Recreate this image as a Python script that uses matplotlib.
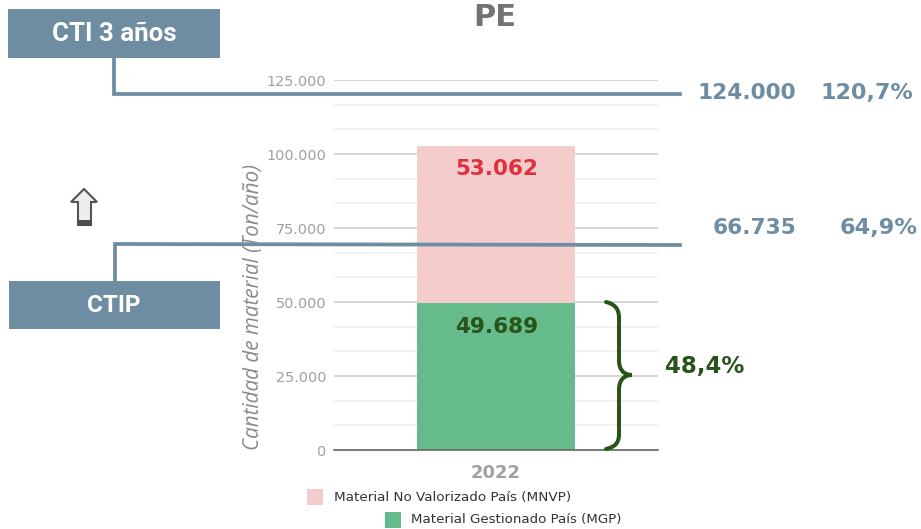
import matplotlib
matplotlib.use('Agg')
import matplotlib.pyplot as plt
from matplotlib.patches import Rectangle, PathPatch, Polygon
from matplotlib.path import Path
from matplotlib.ticker import FuncFormatter

years = ['2022']
mgp = [49689]
mnvp = [53062]
major_ticks = [0, 25000, 50000, 75000, 100000, 125000]
minor_ticks = [v for v in range(0, 125000, 25000)]
cti_values = ['124.000', '120,7%']
ctip_values = ['66.735', '64,9%']
mgp_share = '48,4%'

GREEN = '#65bb8c'
PINK = '#f4cccc'
STEEL = '#6e8da2'
DARK_GREEN = '#28541a'
GREY = '#a0a0a0'

W, H = 921, 529
fig = plt.figure(figsize=(W / 100, H / 100), dpi=100)
ax = fig.add_axes([334 / W, (H - 450) / H, 324 / W, 370 / H])

ax.bar(years, mgp, width=0.485, color=GREEN, zorder=3)
ax.bar(years, mnvp, width=0.485, bottom=mgp, color=PINK, zorder=3)
ax.set_xlim(-0.5, 0.5)
ax.set_ylim(0, 125000)

ax.set_yticks(major_ticks)
ax.set_yticks([v + d for v in minor_ticks for d in (8333, 16667)], minor=True)
ax.yaxis.set_major_formatter(FuncFormatter(lambda v, p: f'{int(v):,}'.replace(',', '.')))
ax.grid(axis='y', which='major', color='#cccccc', lw=1.1, zorder=0)
ax.grid(axis='y', which='minor', color='#eeeeee', lw=1.1, zorder=0)
ax.tick_params(axis='y', which='both', length=0, pad=5.5, labelsize=10.4, labelcolor=GREY)
ax.tick_params(axis='x', length=0, pad=10)
for lab in ax.get_xticklabels():
    lab.set_fontsize(13)
    lab.set_fontweight('bold')
    lab.set_color(GREY)
for s in ['top', 'left', 'right']:
    ax.spines[s].set_visible(False)
ax.spines['bottom'].set_color('#666666')
ax.spines['bottom'].set_linewidth(1.2)
ax.spines['bottom'].set_zorder(4)

ax.annotate(f'{mnvp[0]:,}'.replace(',', '.'), (0, mgp[0] + mnvp[0]), xytext=(0.5, -16.5),
            textcoords='offset points', ha='center', va='center', fontsize=15.5,
            fontweight='bold', color='#e0303f', zorder=5)
ax.annotate(f'{mgp[0]:,}'.replace(',', '.'), (0, mgp[0]), xytext=(0.5, -17),
            textcoords='offset points', ha='center', va='center', fontsize=15.5,
            fontweight='bold', color=DARK_GREEN, zorder=5)

# capa en pixeles para las anotaciones
ov = fig.add_axes([0, 0, 1, 1], zorder=10)
ov.set_xlim(0, W)
ov.set_ylim(H, 0)
ov.axis('off')
ov.patch.set_alpha(0)

ov.text(495, 17, 'PE', ha='center', va='center', fontsize=22, fontweight='bold', color='#737373')
ov.text(253, 306.5, 'Cantidad de material (Ton/año)', rotation=90, ha='center', va='center',
        fontsize=14.9, style='italic', color='#8a8a8a', family='Open Sans')

ov.add_patch(Rectangle((8, 9), 212, 49, color=STEEL, lw=0))
ov.add_patch(Rectangle((9, 281), 211, 48, color=STEEL, lw=0))
ov.text(114, 34, 'CTI 3 años', ha='center', va='center', fontsize=18.6, fontweight='bold',
        color='white', family='Roboto')
ov.text(114, 306, 'CTIP', ha='center', va='center', fontsize=17.5, fontweight='bold',
        color='white', family='Roboto')

ov.plot([114, 114, 680], [58, 94, 94], color=STEEL, lw=2.7, solid_joinstyle='miter')
ov.plot([115, 115, 680], [281, 244, 245], color=STEEL, lw=2.7, solid_joinstyle='miter')
ov.text(697, 93, cti_values[0], va='center', fontsize=15.6, fontweight='bold', color=STEEL)
ov.text(820, 93, cti_values[1], va='center', fontsize=16, fontweight='bold', color=STEEL)
ov.text(713, 228, ctip_values[0], va='center', fontsize=15.6, fontweight='bold', color=STEEL)
ov.text(840, 228, ctip_values[1], va='center', fontsize=16.2, fontweight='bold', color=STEEL)

# llave
verts = [(606, 302), (614, 304), (619, 308), (619, 318), (619, 360),
         (619, 370), (624, 375), (632, 375),
         (624, 375), (619, 380), (619, 390), (619, 434),
         (619, 444), (614, 447), (606, 449)]
codes = [Path.MOVETO, Path.CURVE4, Path.CURVE4, Path.CURVE4, Path.LINETO,
         Path.CURVE4, Path.CURVE4, Path.CURVE4,
         Path.CURVE4, Path.CURVE4, Path.CURVE4, Path.LINETO,
         Path.CURVE4, Path.CURVE4, Path.CURVE4]
ov.add_patch(PathPatch(Path(verts, codes), fc='none', ec=DARK_GREEN, lw=2.9, capstyle='round'))
ov.text(665, 367, mgp_share, va='center', fontsize=16.5, fontweight='bold', color=DARK_GREEN)

# flecha
ov.add_patch(Polygon([(84, 189), (97, 202), (91, 202), (91, 225), (78, 225), (78, 202), (71, 202)],
                     closed=True, fc='#eeeeee', ec='#555555', lw=1.5))
ov.add_patch(Rectangle((77.5, 220), 14, 5.5, color='#4d4d4d', lw=0))

# leyenda
ov.add_patch(Rectangle((307, 488.5), 16, 16, color=PINK, lw=0))
ov.text(334, 497, 'Material No Valorizado País (MNVP)', va='center', fontsize=9.7, color='#333333')
ov.add_patch(Rectangle((385, 512), 16, 16, color=GREEN, lw=0))
ov.text(411, 520, 'Material Gestionado País (MGP)', va='center', fontsize=9.6, color='#333333')

fig.savefig('out.png', dpi=100)
